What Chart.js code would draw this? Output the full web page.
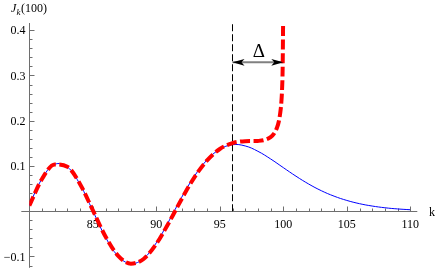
<!DOCTYPE html>
<html>
<head>
<meta charset="utf-8">
<script src="https://cdn.jsdelivr.net/npm/chart.js@4"></script>
<style>
html,body{margin:0;padding:0;background:#ffffff;}
#wrap{width:436px;height:269px;}
</style>
</head>
<body>
<div id="wrap"><canvas id="c" width="436" height="269"></canvas></div>
<script>
// Bessel J_k(100) (blue, thin)
const kValues = [80,81,82,83,84,85,86,87,88,89,90,91,92,93,94,95,96,97,98,99,100,101,102,103,104,105,106,107,108,109,110];
const besselJ = [0.0131,0.0721,0.1036,0.0979,0.0588,0.0010,-0.0572,-0.0994,-0.1158,-0.1044,-0.0698,-0.0214,0.0309,0.0775,0.1135,0.1370,0.1470,0.1443,0.1325,0.1156,0.0964,0.0774,0.0601,0.0453,0.0333,0.0239,0.0167,0.0115,0.0077,0.0051,0.0033];

// Asymptotic approximation (red, thick dashed), diverges at k = 100
const approxK = [80,81,82,83,84,85,86,87,88,89,90,91,92,93,94,95,96,96.5,97,97.5,98,98.5,99,99.25,99.5,99.65,99.8,99.85,99.9,99.95,99.982];
const approxJ = [0.0123,0.0714,0.1034,0.0983,0.0599,0.0023,-0.0559,-0.0985,-0.1158,-0.1055,-0.0721,-0.0247,0.0271,0.0750,0.1124,0.1376,0.1507,0.1536,0.1549,0.1551,0.1554,0.1572,0.1637,0.1709,0.1844,0.1989,0.2263,0.2424,0.2677,0.3177,0.4098];

// Vertical marker and Δ arrow
const markerK = [96, 96];
const markerJ = [0, 0.416];
const arrowK = [96, 100];
const arrowJ = [0.329, 0.329];

// Axes
const xRange = [80, 110];
const yRange = [-0.125, 0.416];
const xTicks = [85, 90, 95, 100, 105, 110];
const xTickLabels = ["85", "90", "95", "100", "105", "110"];
const yTicks = [-0.1, 0.1, 0.2, 0.3, 0.4];
const yTickLabels = ["\u22120.1", "0.1", "0.2", "0.3", "0.4"];
const xMinorStep = 1;
const yMinorStep = 0.02;

const toXY = (xs, ys) => xs.map((v, i) => ({x: v, y: ys[i]}));

const SERIF = '"Liberation Serif", "DejaVu Serif", serif';

const axesPlugin = {
  id: 'mmaAxes',
  beforeDatasetsDraw(chart) {
    const {ctx, chartArea: a, scales: {x, y}} = chart;
    const ax = Math.round(x.getPixelForValue(xRange[0])) + 0.5;
    const ay = Math.round(y.getPixelForValue(0)) + 0.5;
    ctx.save();
    ctx.strokeStyle = '#6e6e6e';
    ctx.lineWidth = 1;
    ctx.beginPath();
    ctx.moveTo(a.left - 8, ay); ctx.lineTo(a.right + 7, ay);
    ctx.moveTo(ax, a.top); ctx.lineTo(ax, a.bottom);
    // x ticks (pointing up)
    const nx = Math.round((xRange[1] - xRange[0]) / xMinorStep);
    for (let i = 1; i <= nx; i++) {
      const v = xRange[0] + i * xMinorStep;
      const px = Math.round(x.getPixelForValue(v)) + 0.5;
      const len = xTicks.includes(v) ? 5 : 3;
      ctx.moveTo(px, ay); ctx.lineTo(px, ay - len);
    }
    // y ticks (pointing right)
    const iMin = Math.ceil(yRange[0] / yMinorStep), iMax = Math.floor(yRange[1] / yMinorStep);
    for (let i = iMin; i <= iMax; i++) {
      if (i === 0) continue;
      const v = i * yMinorStep;
      const py = Math.round(y.getPixelForValue(v)) + 0.5;
      const len = (i % 5 === 0) ? 5 : 3;
      ctx.moveTo(ax, py); ctx.lineTo(ax + len, py);
    }
    ctx.stroke();

    ctx.fillStyle = '#000';
    ctx.font = '12px ' + SERIF;
    ctx.textAlign = 'center';
    ctx.textBaseline = 'alphabetic';
    xTicks.forEach((v, i) => ctx.fillText(xTickLabels[i], x.getPixelForValue(v), ay + 16));
    ctx.textAlign = 'right';
    ctx.textBaseline = 'middle';
    yTicks.forEach((v, i) => ctx.fillText(yTickLabels[i], ax - 4, y.getPixelForValue(v) + 1));

    // axis labels
    ctx.textAlign = 'left';
    ctx.textBaseline = 'alphabetic';
    ctx.font = 'italic 12px ' + SERIF;
    ctx.fillText('J', 11, 12);
    ctx.font = 'italic 9px ' + SERIF;
    ctx.fillText('k', 16.5, 14.5);
    ctx.font = '12px ' + SERIF;
    ctx.fillText('(100)', 21, 12);
    ctx.fillText('k', 429, 216);
    ctx.restore();
  },
  afterDatasetsDraw(chart) {
    const {ctx, scales: {x, y}} = chart;
    const yA = y.getPixelForValue(arrowJ[0]);
    const x1 = x.getPixelForValue(arrowK[0]);
    const x2 = x.getPixelForValue(arrowK[1]);
    ctx.save();
    ctx.fillStyle = '#000';
    const head = (tip, dir) => {
      const L = 12, H = 3.4, N = 3;
      ctx.beginPath();
      ctx.moveTo(tip, yA);
      ctx.lineTo(tip + dir * L, yA - H);
      ctx.lineTo(tip + dir * (L - N), yA);
      ctx.lineTo(tip + dir * L, yA + H);
      ctx.closePath();
      ctx.fill();
    };
    head(x1, 1);
    head(x2, -1);
    ctx.font = '19px ' + SERIF;
    ctx.textAlign = 'center';
    ctx.textBaseline = 'alphabetic';
    ctx.fillText('\u0394', (x1 + x2) / 2 + 1, yA - 5);
    ctx.restore();
  }
};

new Chart(document.getElementById('c'), {
  type: 'line',
  data: {
    datasets: [
      {
        label: 'approx',
        data: toXY(approxK, approxJ),
        borderColor: '#ff0000',
        borderWidth: 4,
        borderDash: [10, 3.5],
        borderCapStyle: 'butt',
        cubicInterpolationMode: 'monotone',
        pointRadius: 0,
        fill: false,
        order: 0
      },
      {
        label: 'marker',
        data: toXY(markerK, markerJ),
        borderColor: '#000000',
        borderWidth: 1,
        borderDash: [7, 3],
        pointRadius: 0,
        tension: 0,
        fill: false,
        order: 1
      },
      {
        label: 'arrow',
        data: toXY(arrowK, arrowJ),
        borderColor: '#808080',
        borderWidth: 2,
        pointRadius: 0,
        tension: 0,
        fill: false,
        order: 1
      },
      {
        label: 'J',
        data: toXY(kValues, besselJ),
        borderColor: '#0000ff',
        borderWidth: 1,
        tension: 0.4,
        pointRadius: 0,
        fill: false,
        order: 2
      }
    ]
  },
  options: {
    responsive: false,
    animation: false,
    events: [],
    layout: {padding: {left: 29.3, right: 25.7, top: 23, bottom: 1.2}},
    plugins: {legend: {display: false}, tooltip: {enabled: false}, title: {display: false}},
    scales: {
      x: {type: 'linear', min: xRange[0], max: xRange[1], display: false},
      y: {type: 'linear', min: yRange[0], max: yRange[1], display: false}
    }
  },
  plugins: [axesPlugin]
});
</script>
</body>
</html>
